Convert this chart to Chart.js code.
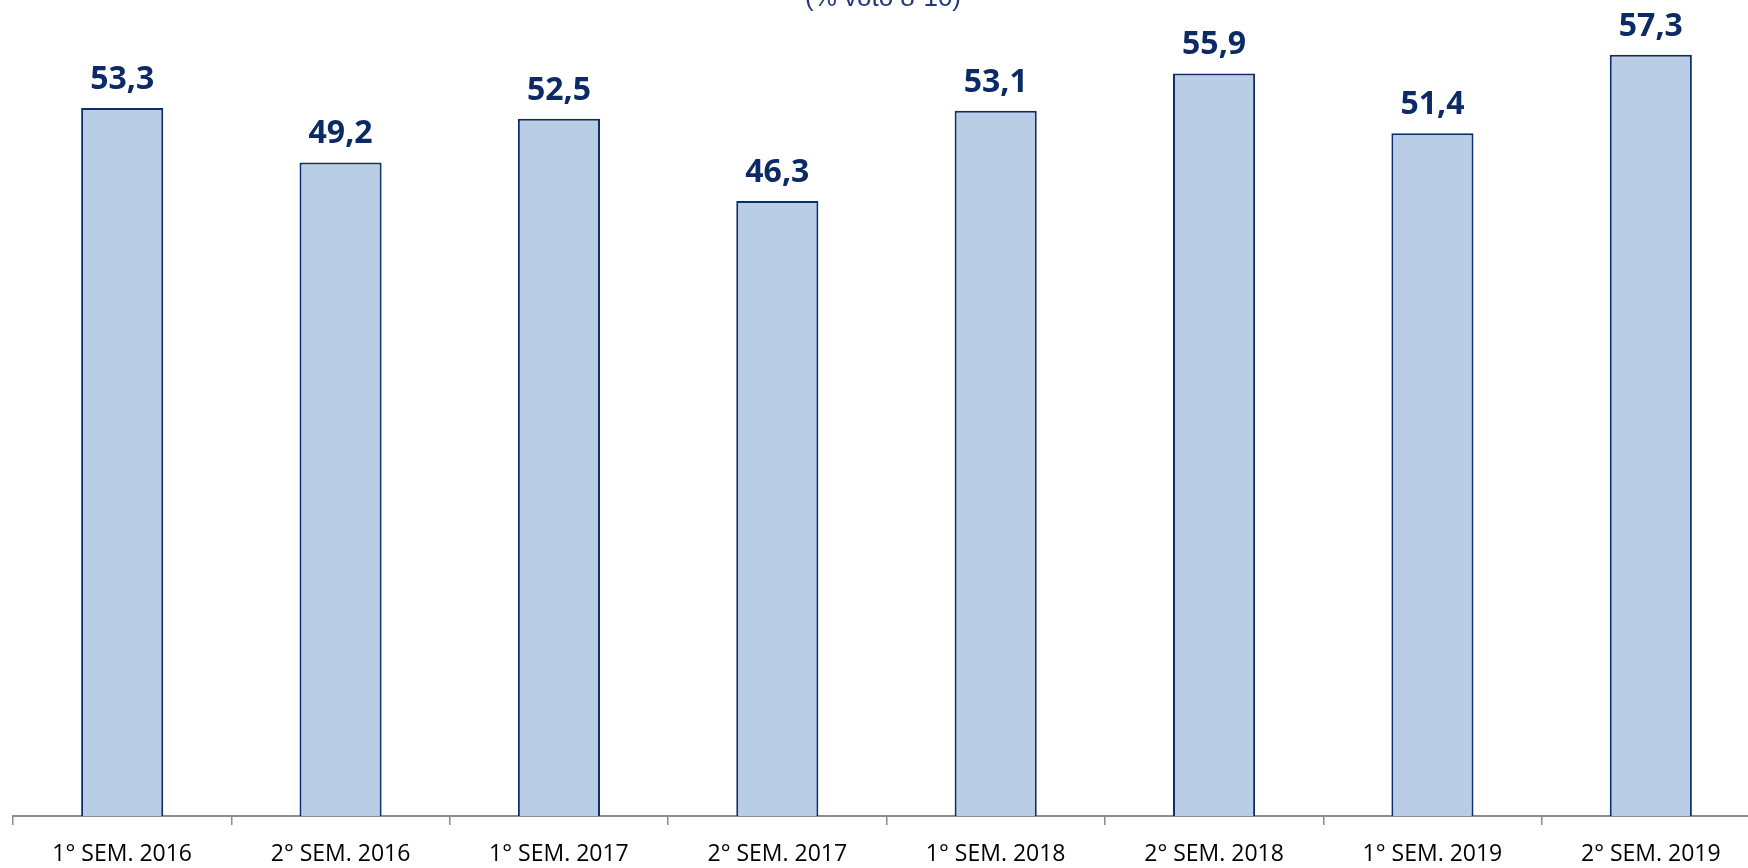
<!DOCTYPE html>
<html>
<head>
<meta charset="utf-8">
<script src="https://cdn.jsdelivr.net/npm/chart.js@4/dist/chart.umd.min.js"></script>
<style>
  html, body { margin: 0; padding: 0; background: #fff; overflow: hidden; }
  #wrap { width: 1748px; height: 868px; overflow: hidden; }
</style>
</head>
<body>
<div id="wrap"><canvas id="barChart" width="1760" height="868"></canvas></div>
<script>
var labels = ["1° SEM. 2016", "2° SEM. 2016", "1° SEM. 2017", "2° SEM. 2017",
              "1° SEM. 2018", "2° SEM. 2018", "1° SEM. 2019", "2° SEM. 2019"];
var values = [53.3, 49.2, 52.5, 46.3, 53.1, 55.9, 51.4, 57.3];
var subtitle = "(% voto 8-10)";

var navy = '#0B2A66';

// values over the bars, with the italian decimal comma
var valueLabels = {
    id: 'valueLabels',
    afterDatasetsDraw: function (chart) {
        var ctx = chart.ctx;
        var meta = chart.getDatasetMeta(0);
        ctx.save();
        ctx.fillStyle = navy;
        ctx.font = 'bold 32px "Open Sans"';
        ctx.textAlign = 'center';
        ctx.textBaseline = 'alphabetic';
        meta.data.forEach(function (bar, i) {
            ctx.fillText(values[i].toFixed(1).replace('.', ','), bar.x, bar.y - 19);
        });
        ctx.restore();
    }
};

// subtitle that is cut off at the top of the picture
var topText = {
    id: 'topText',
    afterDraw: function (chart) {
        var ctx = chart.ctx;
        ctx.save();
        ctx.fillStyle = '#1F3D7A';
        ctx.font = '26px "Liberation Sans"';
        ctx.textAlign = 'center';
        ctx.textBaseline = 'alphabetic';
        ctx.fillText(subtitle, 883, 6);
        ctx.restore();
    }
};

var barChart = new Chart(document.getElementById("barChart").getContext("2d"), {
    type: 'bar',
    data: {
        labels: labels,
        datasets: [{
            data: values,
            backgroundColor: '#B9CDE5',
            borderColor: '#0E2D6E',
            borderWidth: 2,
            categoryPercentage: 1,
            barPercentage: 0.376
        }]
    },
    options: {
        responsive: false,
        animation: false,
        devicePixelRatio: 1,
        layout: { padding: { top: 19, left: 13, right: 0, bottom: 0 } },
        plugins: {
            legend: { display: false },
            tooltip: { enabled: false }
        },
        scales: {
            x: {
                afterFit: function (scale) { scale.height = 52; },
                border: { color: '#8C8C8C', width: 2 },
                grid: {
                    offset: true,
                    drawOnChartArea: false,
                    drawTicks: true,
                    tickLength: 9,
                    color: '#8C8C8C',
                    lineWidth: 1.5
                },
                ticks: {
                    color: '#000',
                    font: { family: '"Open Sans"', size: 23 },
                    padding: 16,
                    maxRotation: 0
                }
            },
            y: {
                display: false,
                min: 0,
                max: 60
            }
        }
    },
    plugins: [valueLabels, topText]
});
</script>
</body>
</html>
